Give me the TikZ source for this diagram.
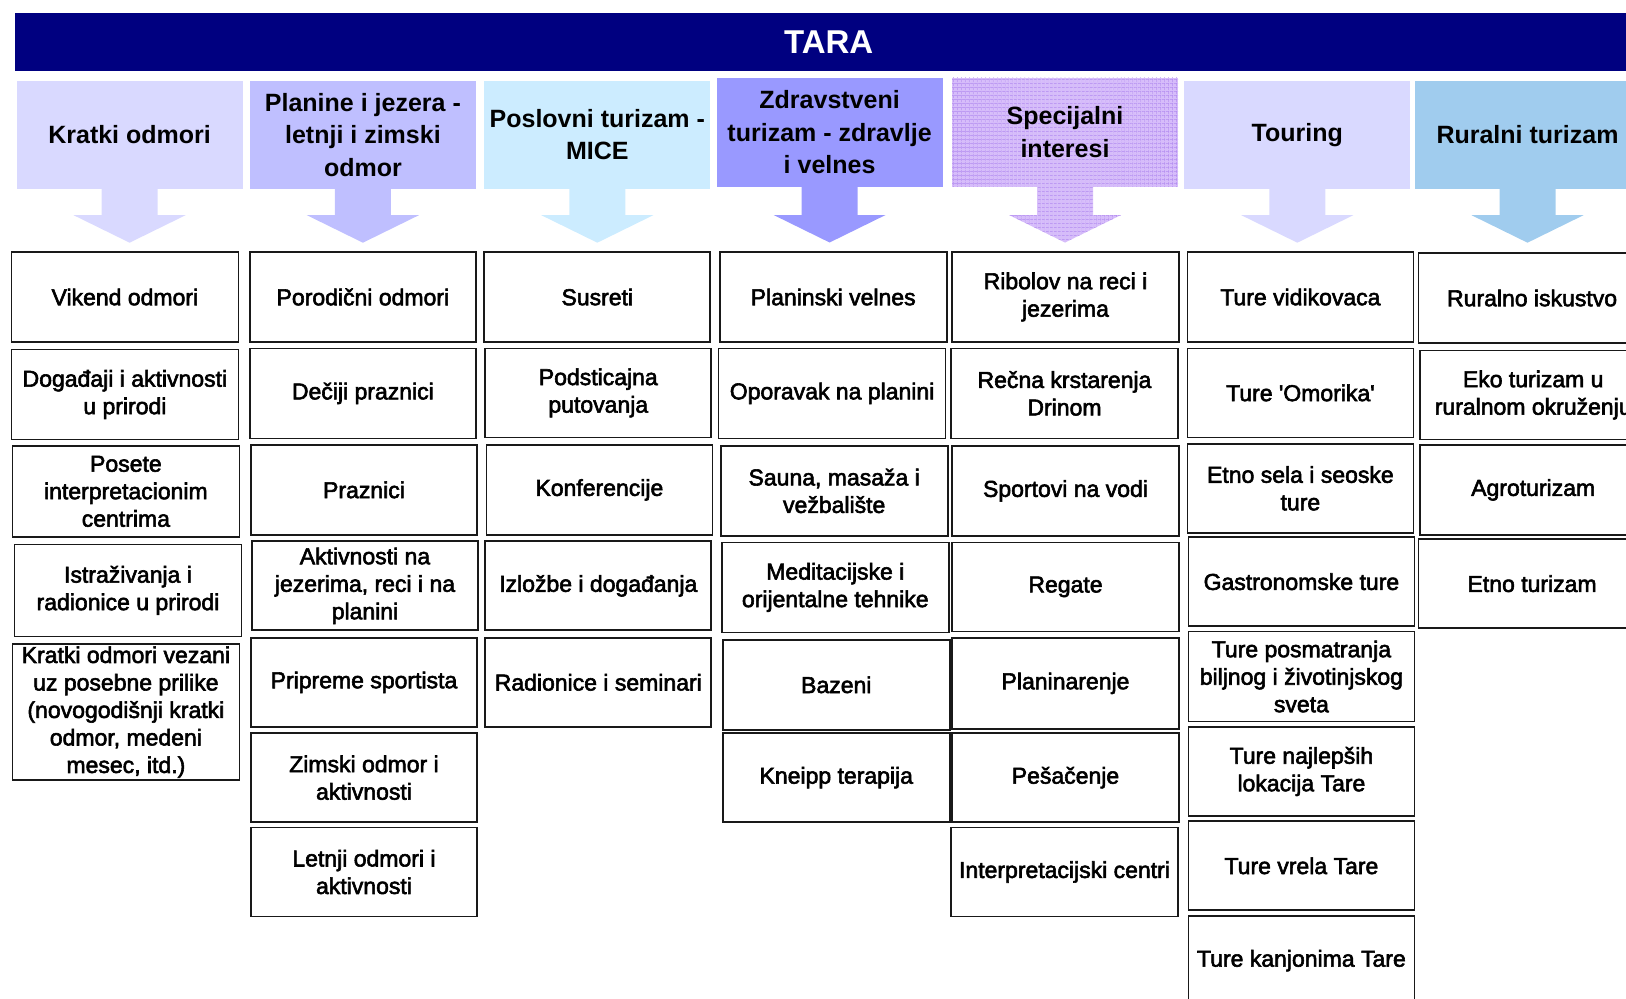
\documentclass[tikz,border=0pt]{standalone}
\usepackage{fontspec}
\setmainfont{Liberation Sans}
\newfontfamily\boxfont{Liberation Sans}[FakeBold=2.5]
\newfontfamily\headfont{Liberation Sans}
\usetikzlibrary{patterns.meta}

\definecolor{titlebg}{HTML}{000080}
\definecolor{hkratki}{HTML}{D9D9FF}
\definecolor{hplanine}{HTML}{BFBFFF}
\definecolor{hposlovni}{HTML}{CCECFF}
\definecolor{hzdrav}{HTML}{9999FF}
\definecolor{hspecbase}{HTML}{D6BCFA}
\definecolor{hspecgrid}{HTML}{B088F0}
\definecolor{hruralni}{HTML}{A0CCEE}

\tikzset{
  hdr/.style={anchor=north west, minimum width=226pt, minimum height=107.8pt,
    inner sep=0pt, outer sep=0pt, align=center,
    font=\headfont\bfseries\fontsize{25}{32.5}\selectfont},
  specfill/.style={fill=hspecbase,
    postaction={pattern={Lines[distance=4pt,angle=0,line width=0.8pt]}, pattern color=hspecgrid},
    postaction={pattern={Lines[distance=4pt,angle=90,line width=0.8pt]}, pattern color=hspecgrid}},
  cbox/.style={anchor=north west, draw=black!90, line width=1.7pt, fill=white,
    minimum width=227pt, minimum height=90pt, inner sep=0pt, outer sep=0pt,
    align=center, font=\boxfont\fontsize{23}{27.5}\selectfont},
}

% downward arrow hanging below a header node: #1 node, #2 fill options, #3 stem length
\newcommand\colarrow[3]{%
  \path[#2] (#1.south) ++(-28,-1) -- ++(0,#3+1) -- ++(-28,0) -- ++(56,27.5)
    -- ++(56,-27.5) -- ++(-28,0) -- ++(0,-#3-1) -- cycle;}

\begin{document}
\begin{tikzpicture}[x=1pt,y=-1pt]
\useasboundingbox (0,0) rectangle (1626,999);
\clip (0,0) rectangle (1626,999);

% title bar
\node[fill=titlebg, anchor=north west, minimum width=1628pt, minimum height=58.1pt,
  inner sep=0pt, text=white, font=\headfont\bfseries\fontsize{33}{36}\selectfont]
  (title) at (14.5,12.4) {TARA};

% column headers
\node[hdr, fill=hkratki]   (h1) at (16.6,80.9)  {Kratki odmori};
\node[hdr, fill=hplanine]  (h2) at (249.9,80.9) {Planine i jezera -\\letnji i zimski\\odmor};
\node[hdr, fill=hposlovni] (h3) at (484.3,80.9) {Poslovni turizam -\\MICE};
\node[hdr, fill=hzdrav, minimum height=108.9pt] (h4) at (716.6,77.8) {Zdravstveni\\turizam - zdravlje\\i velnes};
\node[hdr, specfill, minimum height=108.9pt] (h5) at (952,77.8) {Specijalni\\interesi};
\node[hdr, fill=hkratki]   (h6) at (1184.3,80.9) {Touring};
\node[hdr, fill=hruralni]  (h7) at (1414.5,80.9) {Ruralni turizam};

\colarrow{h1}{fill=hkratki}{26.5}
\colarrow{h2}{fill=hplanine}{26.5}
\colarrow{h3}{fill=hposlovni}{26.5}
\colarrow{h4}{fill=hzdrav}{28.3}
\colarrow{h5}{specfill}{28.3}
\colarrow{h6}{fill=hkratki}{26.5}
\colarrow{h7}{fill=hruralni}{26.5}

% Kratki odmori
\node[cbox] (k1) at (11.4,252.0) {Vikend odmori};
\node[cbox] (k2) at (11.4,349.5) {Događaji i aktivnosti\\u prirodi};
\node[cbox, minimum height=91pt] (k3) at (12.4,445.9) {Posete\\interpretacionim\\centrima};
\node[cbox, minimum height=92pt] (k4) at (14.5,544.4) {Istraživanja i\\radionice u prirodi};
\node[cbox, minimum height=136pt] (k5) at (12.4,644.0) {Kratki odmori vezani\\uz posebne prilike\\(novogodišnji kratki\\odmor, medeni\\mesec, itd.)};

% Planine i jezera
\node[cbox, minimum width=226pt] (p1) at (249.9,252.0) {Porodični odmori};
\node[cbox, minimum width=226pt] (p2) at (249.9,348.4) {Dečiji praznici};
\node[cbox, minimum width=226pt] (p3) at (251.0,444.9) {Praznici};
\node[cbox, minimum width=226pt, minimum height=89pt] (p4) at (252.0,541.3) {Aktivnosti na\\jezerima, reci i na\\planini};
\node[cbox, minimum width=226pt, minimum height=89pt] (p5) at (251.0,637.8) {Pripreme sportista};
\node[cbox, minimum width=226pt, minimum height=89pt] (p6) at (251.0,733.2) {Zimski odmor i\\aktivnosti};
\node[cbox, minimum width=226pt, minimum height=89pt] (p7) at (251.0,827.5) {Letnji odmori i\\aktivnosti};

% Poslovni turizam
\node[cbox, minimum width=226pt] (b1) at (484.3,252.0) {Susreti};
\node[cbox, minimum width=226pt, minimum height=89pt] (b2) at (485.3,348.4) {Podsticajna\\putovanja};
\node[cbox, minimum width=226pt] (b3) at (486.4,444.9) {Konferencije};
\node[cbox, minimum width=226pt, minimum height=89pt] (b4) at (485.3,541.3) {Izložbe i događanja};
\node[cbox, minimum width=226pt, minimum height=89pt] (b5) at (485.3,637.8) {Radionice i seminari};

% Zdravstveni turizam
\node[cbox] (z1) at (719.7,252.0) {Planinski velnes};
\node[cbox] (z2) at (718.6,348.4) {Oporavak na planini};
\node[cbox] (z3) at (720.7,445.9) {Sauna, masaža i\\vežbalište};
\node[cbox] (z4) at (721.8,542.4) {Meditacijske i\\orijentalne tehnike};
\node[cbox] (z5) at (722.8,639.8) {Bazeni};
\node[cbox, minimum height=89pt] (z6) at (722.8,733.2) {Kneipp terapija};

% Specijalni interesi
\node[cbox] (s1) at (952.0,252.0) {Ribolov na reci i\\jezerima};
\node[cbox] (s2) at (951.0,348.4) {Rečna krstarenja\\Drinom};
\node[cbox] (s3) at (952.0,445.9) {Sportovi na vodi};
\node[cbox, minimum height=89pt] (s4) at (952.0,542.4) {Regate};
\node[cbox, minimum height=91pt] (s5) at (952.0,637.8) {Planinarenje};
\node[cbox, minimum height=89pt] (s6) at (952.0,733.2) {Pešačenje};
\node[cbox, minimum height=89pt] (s7) at (951.0,827.5) {Interpretacijski centri};

% Touring
\node[cbox, minimum width=226pt] (t1) at (1187.4,252.0) {Ture vidikovaca};
\node[cbox, minimum width=226pt, minimum height=89pt] (t2) at (1187.4,348.4) {Ture 'Omorika'};
\node[cbox, minimum width=226pt, minimum height=89pt] (t3) at (1187.4,443.8) {Etno sela i seoske\\ture};
\node[cbox, minimum width=226pt, minimum height=89pt] (t4) at (1188.4,537.2) {Gastronomske ture};
\node[cbox, minimum width=226pt] (t5) at (1188.4,631.5) {Ture posmatranja\\biljnog i životinjskog\\sveta};
\node[cbox, minimum width=226pt, minimum height=89pt] (t6) at (1188.4,727.0) {Ture najlepših\\lokacija Tare};
\node[cbox, minimum width=226pt, minimum height=89pt] (t7) at (1188.4,821.3) {Ture vrela Tare};
\node[cbox, minimum width=226pt] (t8) at (1188.4,915.7) {Ture kanjonima Tare};

% Ruralni turizam
\node[cbox] (r1) at (1418.6,253.0) {Ruralno iskustvo};
\node[cbox, minimum height=89pt] (r2) at (1419.7,350.5) {Eko turizam u\\ruralnom okruženju};
\node[cbox] (r3) at (1419.7,444.9) {Agroturizam};
\node[cbox, minimum height=89pt] (r4) at (1418.6,539.2) {Etno turizam};
\end{tikzpicture}
\end{document}
